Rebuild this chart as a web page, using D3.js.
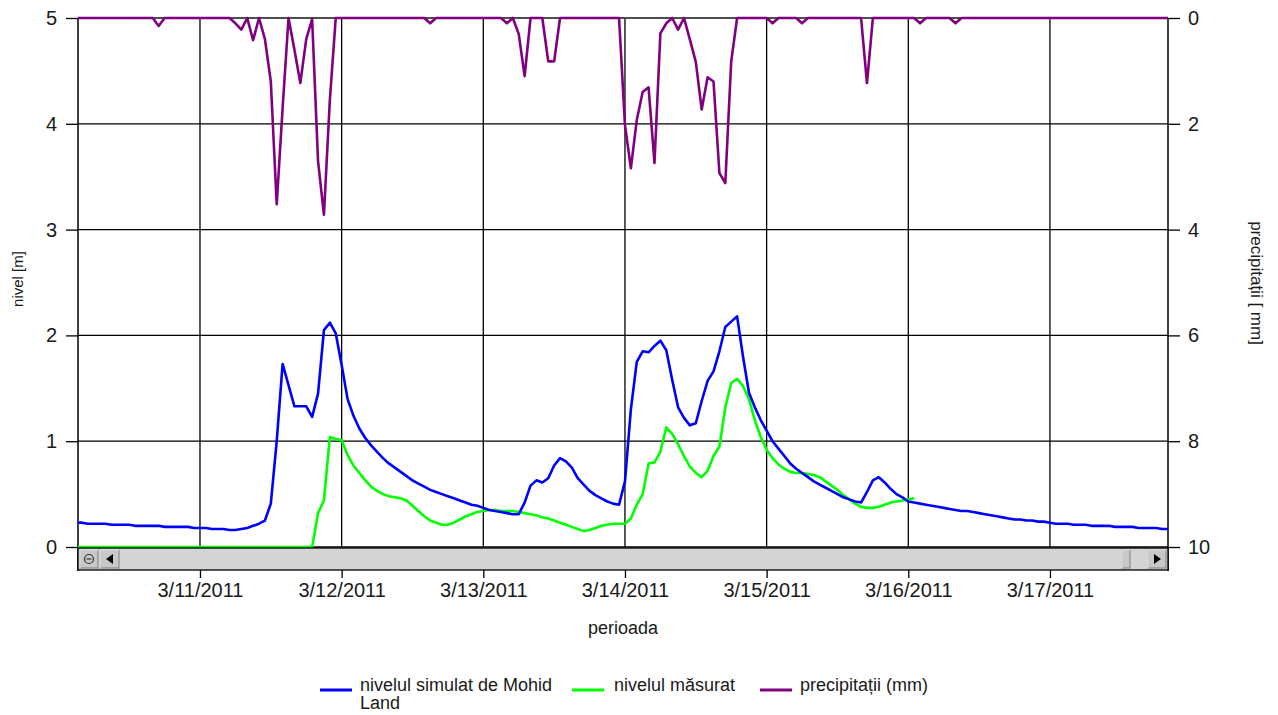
<!DOCTYPE html>
<html lang="ro">
    <head>
        <meta charset="utf-8">
        <title>nivel si precipitatii</title>
        <script type="text/javascript" src="https://cdn.jsdelivr.net/npm/d3@7"></script>
        <style>
            body { margin: 0; background: #fff; }
            svg text { font-family: "Liberation Sans", Arial, sans-serif; fill: #1a1a1a; }
        </style>
    </head>
    <body>
        <script type="text/javascript">
            // hourly series, first value at 3/10/2011 03:00, last at 3/17/2011 20:00
            // rows: 3/10 (from 03:00), 3/11, 3/12, 3/13, 3/14, 3/15, 3/16, 3/17 (to 20:00)
            var simulated = [
                0.23,0.23,0.22,0.22,0.22,0.22,0.21,0.21,0.21,0.21,0.20,0.20,0.20,0.20,0.20,0.19,0.19,0.19,0.19,0.19,0.18,
                0.18,0.18,0.17,0.17,0.17,0.16,0.16,0.17,0.18,0.20,0.22,0.25,0.41,1.00,1.73,1.53,1.33,1.33,1.33,1.23,1.45,2.05,2.12,2.02,
                1.72,1.40,1.24,1.12,1.03,0.96,0.90,0.84,0.79,0.75,0.71,0.67,0.63,0.60,0.57,0.54,0.52,0.50,0.48,0.46,0.44,0.42,0.40,0.39,
                0.37,0.35,0.34,0.33,0.32,0.31,0.31,0.42,0.58,0.63,0.61,0.65,0.77,0.84,0.81,0.75,0.65,0.59,0.53,0.49,0.46,0.43,0.41,0.40,
                0.62,1.30,1.75,1.85,1.84,1.90,1.95,1.86,1.58,1.32,1.22,1.15,1.17,1.38,1.57,1.66,1.85,2.08,2.13,2.18,1.80,1.46,1.32,1.20,
                1.10,1.00,0.93,0.86,0.79,0.74,0.70,0.66,0.62,0.59,0.56,0.53,0.50,0.47,0.45,0.43,0.42,0.52,0.63,0.66,0.61,0.55,0.50,0.47,
                0.43,0.42,0.41,0.40,0.39,0.38,0.37,0.36,0.35,0.34,0.34,0.33,0.32,0.31,0.30,0.29,0.28,0.27,0.26,0.26,0.25,0.25,0.24,0.24,
                0.23,0.22,0.22,0.22,0.21,0.21,0.21,0.20,0.20,0.20,0.20,0.19,0.19,0.19,0.19,0.18,0.18,0.18,0.18,0.17,0.17
            ];
            var measured = [
                0,0,0,0,0,0,0,0,0,0,0,0,0,0,0,0,0,0,0,0,0,
                0,0,0,0,0,0,0,0,0,0,0,0,0,0,0,0,0,0,0,0,0.32,0.44,1.04,1.02,
                1.01,0.87,0.77,0.70,0.63,0.57,0.53,0.50,0.48,0.47,0.46,0.44,0.39,0.34,0.29,0.25,0.23,0.21,0.21,0.23,0.26,0.29,0.31,0.33,
                0.34,0.35,0.35,0.34,0.34,0.34,0.33,0.32,0.31,0.30,0.28,0.27,0.25,0.23,0.21,0.19,0.17,0.15,0.16,0.18,0.20,0.21,0.22,0.22,
                0.22,0.27,0.40,0.50,0.79,0.80,0.90,1.13,1.07,0.97,0.86,0.76,0.70,0.66,0.72,0.86,0.95,1.32,1.55,1.59,1.52,1.40,1.20,1.04,
                0.92,0.84,0.78,0.74,0.71,0.70,0.70,0.69,0.68,0.66,0.62,0.58,0.54,0.49,0.45,0.41,0.38,0.37,0.37,0.38,0.40,0.42,0.43,0.44,
                0.45,0.46
            ];
            var precipitation = [
                0,0,0,0,0,0,0,0,0,0,0,0,0,0,0.15,0,0,0,0,0,0,
                0,0,0,0,0,0,0.1,0.22,0,0.42,0,0.4,1.2,3.52,1.7,0,0.6,1.23,0.4,0.02,2.7,3.72,1.55,0,
                0,0,0,0,0,0,0,0,0,0,0,0,0,0,0,0.1,0,0,0,0,0,0,0,0,
                0,0,0,0,0.1,0,0.3,1.1,0,0,0,0.82,0.82,0,0,0,0,0,0,0,0,0,0,0,
                2.02,2.84,1.93,1.4,1.31,2.74,0.29,0.1,0,0.22,0,0.41,0.83,1.73,1.12,1.2,2.93,3.12,0.82,0,0,0,0,0,
                0,0.1,0,0,0,0,0.1,0,0,0,0,0,0,0,0,0,0,1.23,0,0,0,0,0,0,
                0,0,0.1,0,0,0,0,0,0.1,0,0,0,0,0,0,0,0,0,0,0,0,0,0,0,
                0,0,0,0,0,0,0,0,0,0,0,0,0,0,0,0,0,0,0,0,0
            ];
            var levelTicks = [0, 1, 2, 3, 4, 5];
            var rainTicks = [0, 2, 4, 6, 8, 10];
            var dayTicks = [11, 12, 13, 14, 15, 16, 17];
            var seriesNames = ["nivelul simulat de Mohid Land", "nivelul măsurat", "precipitații (mm)"];
            var seriesColors = ["#0000ff", "#00ff00", "#800080"];

            var w = 1278, h = 715;
            var pLeft = 78, pRight = 1168, pTop = 18, pBottom = 547;
            var start = new Date(2011, 2, 10, 3);

            function hourly(values) {
                return values.map(function(v, i){ return {t: d3.timeHour.offset(start, i), v: v}; });
            }

            var x = d3.scaleTime()
                .domain([new Date(2011, 2, 10, 3, 20), new Date(2011, 2, 17, 20)])
                .range([pLeft, pRight]);
            var yLevel = d3.scaleLinear().domain([0, 5]).range([pBottom, pTop]);
            var yRain = d3.scaleLinear().domain([0, 10]).range([pTop, pBottom]);

            var svg = d3.select("body").append("svg").attr("width", w).attr("height", h);

            svg.append("defs").append("clipPath").attr("id", "plot")
                .append("rect").attr("x", pLeft).attr("y", pTop - 2).attr("width", pRight - pLeft).attr("height", pBottom - pTop + 3);

            // grid
            var grid = svg.append("g").attr("stroke", "#000").attr("stroke-width", 1.3);
            grid.selectAll("line.h").data(levelTicks).enter().append("line")
                .attr("x1", pLeft).attr("x2", pRight)
                .attr("y1", function(d){ return yLevel(d); }).attr("y2", function(d){ return yLevel(d); });
            grid.selectAll("line.v").data(dayTicks).enter().append("line")
                .attr("x1", function(d){ return x(new Date(2011, 2, d)); })
                .attr("x2", function(d){ return x(new Date(2011, 2, d)); })
                .attr("y1", pTop).attr("y2", pBottom);

            // left axis
            var leftAxis = svg.append("g").attr("transform", "translate(" + pLeft + ",0)")
                .call(d3.axisLeft(yLevel).tickValues(levelTicks).tickSize(12).tickPadding(9).tickFormat(d3.format("d")));
            leftAxis.select(".domain").remove();
            leftAxis.selectAll("line").attr("stroke", "#000").attr("stroke-width", 1.3);
            leftAxis.selectAll("text").attr("font-size", "20px").attr("font-family", null).style("fill", "#1a1a1a");

            // right axis
            var rightAxis = svg.append("g").attr("transform", "translate(" + pRight + ",0)")
                .call(d3.axisRight(yRain).tickValues(rainTicks).tickSize(12).tickPadding(8));
            rightAxis.select(".domain").remove();
            rightAxis.selectAll("line").attr("stroke", "#000").attr("stroke-width", 1.3);
            rightAxis.selectAll("text").attr("font-size", "20px").attr("font-family", null).style("fill", "#1a1a1a");

            // frame
            svg.append("line").attr("x1", pLeft).attr("x2", pRight).attr("y1", pTop).attr("y2", pTop)
                .attr("stroke", "#555").attr("stroke-width", 1.5);
            svg.append("line").attr("x1", pLeft).attr("x2", pLeft).attr("y1", pTop).attr("y2", 571)
                .attr("stroke", "#000").attr("stroke-width", 1.5);
            svg.append("line").attr("x1", pRight).attr("x2", pRight).attr("y1", pTop).attr("y2", 571)
                .attr("stroke", "#000").attr("stroke-width", 1.5);

            // lines
            var lines = svg.append("g").attr("clip-path", "url(#plot)").attr("fill", "none")
                .attr("stroke-width", 2.6).attr("stroke-linejoin", "round");
            var levelLine = d3.line()
                .defined(function(d){ return d.v != null; })
                .x(function(d){ return x(d.t); })
                .y(function(d){ return yLevel(d.v); });
            var rainLine = d3.line()
                .x(function(d){ return x(d.t); })
                .y(function(d){ return yRain(d.v); });
            lines.append("path").datum(hourly(precipitation)).attr("stroke", seriesColors[2]).attr("d", rainLine);
            lines.append("path").datum(hourly(measured)).attr("stroke", seriesColors[1]).attr("d", levelLine);
            lines.append("path").datum(hourly(simulated)).attr("stroke", seriesColors[0]).attr("d", levelLine);

            // scrollbar under the plot
            var sb = svg.append("g");
            sb.append("rect").attr("x", pLeft).attr("y", 548).attr("width", pRight - pLeft).attr("height", 22)
                .attr("fill", "#d4d4d4").attr("stroke", "#000").attr("stroke-width", 1.3);
            function button(bx, bw) {
                sb.append("rect").attr("x", bx).attr("y", 550).attr("width", bw).attr("height", 18)
                    .attr("fill", "#c8c8c8").attr("stroke", "#808080");
                sb.append("line").attr("x1", bx).attr("x2", bx + bw).attr("y1", 550).attr("y2", 550).attr("stroke", "#fff");
                sb.append("line").attr("x1", bx).attr("x2", bx).attr("y1", 550).attr("y2", 568).attr("stroke", "#fff");
            }
            button(80, 18);
            button(100, 19);
            button(1122, 8);
            button(1148, 18);
            sb.append("circle").attr("cx", 89).attr("cy", 559).attr("r", 4.5).attr("fill", "none").attr("stroke", "#333").attr("stroke-width", 1.2);
            sb.append("line").attr("x1", 86.5).attr("x2", 91.5).attr("y1", 559).attr("y2", 559).attr("stroke", "#333").attr("stroke-width", 1.2);
            sb.append("path").attr("d", "M113,554 L106,559 L113,564 Z").attr("fill", "#000");
            sb.append("path").attr("d", "M1154,554 L1161,559 L1154,564 Z").attr("fill", "#000");

            // date axis below the scrollbar
            var bottomAxis = svg.append("g").attr("transform", "translate(0,570)")
                .call(d3.axisBottom(x)
                    .tickValues(dayTicks.map(function(d){ return new Date(2011, 2, d); }))
                    .tickFormat(d3.timeFormat("%-m/%-d/%Y"))
                    .tickSize(8).tickPadding(5));
            bottomAxis.select(".domain").remove();
            bottomAxis.selectAll("line").attr("stroke", "#000").attr("stroke-width", 1.3);
            bottomAxis.selectAll("text").attr("font-size", "20px").attr("font-family", null).style("fill", "#1a1a1a");

            // axis titles
            svg.append("text").attr("x", 623).attr("y", 634).attr("text-anchor", "middle")
                .attr("font-size", "18px").text("perioada");
            svg.append("text").attr("transform", "translate(23,279) rotate(-90)").attr("text-anchor", "middle")
                .attr("font-size", "15px").text("nivel [m]");
            svg.append("text").attr("transform", "translate(1251,283) rotate(90)").attr("text-anchor", "middle")
                .attr("font-size", "17px").text("precipitații [ mm]");

            // legend
            var legendX = [320, 572, 760];
            var legend = svg.append("g").selectAll("g").data(seriesNames).enter().append("g")
                .attr("transform", function(d, i){ return "translate(" + legendX[i] + ",690)"; });
            legend.append("line").attr("x1", 0).attr("x2", 32).attr("y1", 0).attr("y2", 0)
                .attr("stroke-width", 3).attr("stroke", function(d, i){ return seriesColors[i]; });
            legend.append("text").attr("y", 0)
                .attr("font-size", "18px")
                .each(function(d, i){
                    var t = d3.select(this);
                    if (i == 0) {
                        t.append("tspan").attr("x", 40).attr("dy", "0.05em").text("nivelul simulat de Mohid");
                        t.append("tspan").attr("x", 40).attr("dy", "1.0em").text("Land");
                    } else {
                        t.append("tspan").attr("x", i == 2 ? 40 : 42).attr("dy", "0.05em").text(d);
                    }
                });
        </script>
    </body>
</html>
